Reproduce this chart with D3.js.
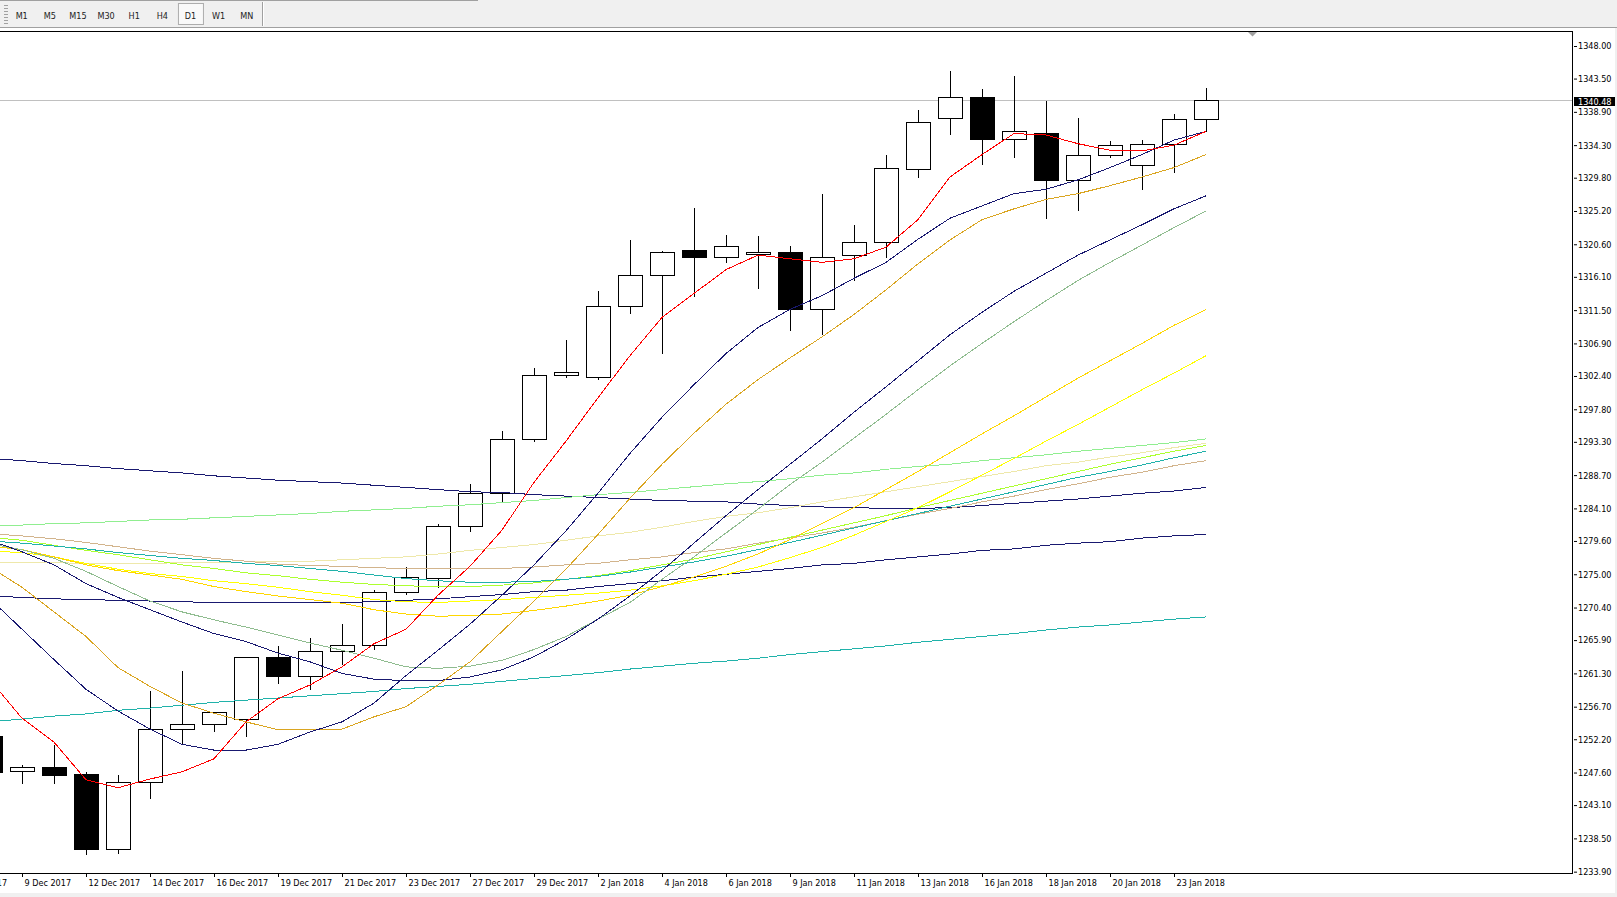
<!DOCTYPE html>
<html>
<head>
<meta charset="utf-8">
<script src="https://cdn.jsdelivr.net/npm/d3@7"></script>
<style>
  html, body { margin: 0; padding: 0; background: #fff; overflow: hidden; }
</style>
</head>
<body>
<div id="chart"></div>
<script>
// daily bars, 8 Dec 2017 .. 24 Jan 2018
var dates = ["8 Dec 2017","9 Dec 2017","11 Dec 2017","12 Dec 2017","13 Dec 2017","14 Dec 2017","15 Dec 2017","16 Dec 2017","18 Dec 2017","19 Dec 2017","20 Dec 2017","21 Dec 2017","22 Dec 2017","23 Dec 2017","26 Dec 2017","27 Dec 2017","28 Dec 2017","29 Dec 2017","30 Dec 2017","2 Jan 2018","3 Jan 2018","4 Jan 2018","5 Jan 2018","6 Jan 2018","8 Jan 2018","9 Jan 2018","10 Jan 2018","11 Jan 2018","12 Jan 2018","13 Jan 2018","15 Jan 2018","16 Jan 2018","17 Jan 2018","18 Jan 2018","19 Jan 2018","20 Jan 2018","22 Jan 2018","23 Jan 2018","24 Jan 2018"];

var open  = [1252.6,1247.8,1248.4,1247.4,1237.0,1246.3,1253.6,1254.3,1255.0,1263.5,1260.9,1264.4,1265.2,1272.5,1274.5,1281.6,1286.2,1293.7,1302.5,1302.3,1312.1,1316.3,1319.8,1318.8,1319.2,1319.5,1311.6,1319.1,1320.9,1331.0,1338.0,1341.0,1335.2,1336.0,1329.5,1333.0,1331.6,1334.5,1337.9];
var high  = [1253.4,1248.7,1251.4,1247.7,1247.3,1258.9,1261.6,1256.0,1263.6,1265.1,1266.2,1268.1,1272.8,1276.0,1282.0,1287.5,1294.8,1303.5,1307.4,1314.2,1321.2,1319.7,1325.6,1321.9,1321.8,1320.3,1327.6,1323.3,1333.0,1339.2,1344.6,1342.0,1343.9,1340.4,1338.0,1334.9,1335.0,1338.6,1342.2];
var low   = [1247.0,1246.1,1246.2,1236.3,1236.5,1244.1,1251.7,1253.3,1252.6,1260.0,1259.1,1262.6,1264.7,1272.3,1273.2,1281.0,1285.1,1293.4,1302.2,1302.0,1311.1,1305.6,1313.5,1318.2,1314.6,1308.8,1308.2,1315.6,1318.8,1329.9,1335.9,1331.7,1332.7,1324.2,1325.3,1332.6,1328.3,1330.6,1336.2];
var close = [1247.7,1248.3,1247.3,1237.0,1246.3,1253.6,1254.3,1255.9,1263.5,1260.9,1264.4,1265.2,1272.5,1274.6,1281.6,1286.2,1293.7,1302.5,1302.9,1312.1,1316.3,1319.6,1318.8,1320.3,1319.6,1311.6,1318.9,1320.9,1331.2,1337.5,1341.0,1335.2,1336.2,1329.5,1333.0,1334.3,1334.5,1337.9,1340.48];

// moving averages, one value per bar
var maRed       = [1260.4,1255.1,1251.8,1246.6,1245.5,1246.7,1247.7,1249.5,1254.6,1257.8,1259.7,1262.2,1265.4,1267.4,1272.1,1276.1,1281.1,1287.7,1293.4,1299.4,1305.2,1310.5,1313.8,1317.1,1319.1,1318.6,1318.1,1318.6,1320.2,1324.0,1329.9,1333.0,1335.9,1335.7,1334.5,1333.6,1333.5,1334.3,1336.2];
var maNavyFast  = [1271.6,1267.4,1263.2,1259.1,1256.1,1253.6,1251.5,1250.7,1250.7,1251.5,1253.2,1254.6,1257.2,1261.0,1264.5,1268.1,1272.1,1276.3,1281.0,1286.2,1291.7,1296.7,1301.2,1305.5,1309.1,1311.6,1313.5,1315.9,1318.1,1321.3,1324.2,1325.9,1327.6,1328.2,1329.5,1331.2,1333.0,1335.0,1336.2];
var maOrange    = [1276.0,1273.2,1269.8,1266.4,1262.1,1259.5,1257.2,1255.8,1254.6,1253.5,1253.5,1253.6,1255.3,1256.7,1259.7,1262.9,1267.1,1271.3,1275.7,1280.5,1285.5,1290.2,1294.5,1298.5,1301.9,1304.9,1307.8,1310.9,1314.3,1317.9,1321.2,1324.0,1325.5,1326.8,1327.6,1328.7,1329.9,1331.2,1333.0];
var maNavyMid   = [1279.7,1278.1,1276.3,1273.7,1271.8,1270.1,1268.4,1266.8,1265.7,1264.1,1262.9,1261.3,1260.5,1260.3,1260.3,1260.8,1261.8,1263.6,1266.0,1268.8,1272.0,1275.5,1279.3,1283.1,1286.7,1290.2,1293.7,1297.4,1300.9,1304.5,1308.1,1311.2,1314.1,1316.6,1319.1,1321.2,1323.3,1325.5,1327.3];
var maSeaGreen  = [1279.2,1278.4,1277.2,1275.4,1273.3,1271.3,1269.8,1268.7,1267.7,1266.6,1265.5,1264.5,1263.4,1262.2,1262.0,1262.3,1263.1,1264.6,1266.4,1268.8,1271.1,1274.3,1277.4,1280.7,1284.0,1287.4,1290.5,1293.8,1297.1,1300.5,1303.8,1306.9,1309.9,1312.8,1315.6,1318.1,1320.5,1322.9,1325.2];
var maGold      = [1278.9,1278.4,1277.4,1276.3,1275.5,1274.9,1274.3,1273.3,1272.6,1272.0,1271.5,1271.0,1270.1,1269.5,1269.2,1269.3,1269.5,1270.0,1270.6,1271.3,1272.1,1273.3,1274.6,1276.1,1277.8,1279.8,1282.0,1284.2,1286.7,1289.2,1291.8,1294.4,1296.9,1299.5,1302.1,1304.5,1306.9,1309.4,1311.6];
var maYellow    = [1278.2,1278.0,1277.4,1276.5,1275.7,1275.1,1274.7,1274.1,1273.7,1273.2,1272.6,1272.1,1271.5,1271.2,1271.1,1271.3,1271.5,1271.8,1272.1,1272.4,1272.8,1273.4,1274.1,1275.0,1276.0,1277.3,1278.7,1280.4,1282.3,1284.2,1286.4,1288.7,1291.0,1293.4,1295.7,1298.1,1300.5,1302.8,1305.2];
var maTeal      = [1279.6,1279.3,1278.9,1278.5,1278.0,1277.6,1277.2,1276.9,1276.5,1276.2,1275.8,1275.4,1274.9,1274.4,1274.1,1273.9,1273.9,1274.0,1274.3,1274.7,1275.3,1276.0,1276.7,1277.5,1278.4,1279.4,1280.4,1281.4,1282.4,1283.4,1284.4,1285.4,1286.4,1287.4,1288.4,1289.2,1290.1,1291.1,1292.0];
var maLime      = [1280.1,1279.7,1279.0,1278.3,1277.7,1277.0,1276.3,1275.8,1275.2,1274.8,1274.3,1273.9,1273.6,1273.4,1273.3,1273.3,1273.5,1273.8,1274.3,1274.8,1275.5,1276.3,1277.1,1278.1,1279.1,1280.1,1281.1,1282.1,1283.1,1284.2,1285.2,1286.2,1287.2,1288.2,1289.2,1290.2,1291.1,1292.0,1292.8];
var maTan       = [1280.6,1280.3,1279.9,1279.4,1278.8,1278.2,1277.7,1277.2,1276.8,1276.4,1276.2,1276.1,1275.9,1275.8,1275.8,1275.8,1275.8,1276.0,1276.3,1276.5,1277.0,1277.4,1278.0,1278.5,1279.3,1280.0,1280.7,1281.5,1282.4,1283.3,1284.1,1285.0,1285.8,1286.7,1287.5,1288.4,1289.1,1290.0,1290.7];
var maPale      = [1276.7,1276.6,1276.6,1276.5,1276.5,1276.5,1276.6,1276.6,1276.7,1276.8,1276.8,1277.0,1277.2,1277.4,1277.8,1278.3,1278.7,1279.1,1279.7,1280.3,1280.8,1281.5,1282.3,1283.0,1283.5,1284.2,1285.0,1285.7,1286.4,1287.1,1287.8,1288.5,1289.2,1290.0,1290.5,1291.2,1291.8,1292.5,1293.1];
var maLightGreen= [1281.7,1281.8,1282.0,1282.1,1282.3,1282.5,1282.6,1282.8,1283.0,1283.2,1283.4,1283.7,1283.9,1284.1,1284.4,1284.6,1284.9,1285.2,1285.6,1286.0,1286.3,1286.7,1287.1,1287.5,1287.8,1288.2,1288.7,1289.0,1289.5,1289.9,1290.2,1290.7,1291.1,1291.5,1292.0,1292.4,1292.8,1293.2,1293.7];
var maNavySlow  = [1291.0,1290.7,1290.3,1290.0,1289.6,1289.3,1289.0,1288.6,1288.3,1288.0,1287.8,1287.6,1287.3,1287.0,1286.7,1286.4,1286.3,1286.0,1285.8,1285.6,1285.4,1285.2,1285.1,1285.0,1284.7,1284.5,1284.3,1284.2,1284.1,1284.1,1284.2,1284.5,1284.8,1285.1,1285.4,1285.8,1286.2,1286.5,1287.0];
var maNavyFlat  = [1272.0,1271.8,1271.6,1271.5,1271.4,1271.3,1271.2,1271.1,1271.1,1271.1,1271.1,1271.1,1271.2,1271.4,1271.6,1271.9,1272.2,1272.6,1272.8,1273.3,1273.7,1274.1,1274.6,1275.0,1275.4,1275.8,1276.3,1276.5,1277.0,1277.4,1277.8,1278.3,1278.5,1279.0,1279.3,1279.5,1280.0,1280.3,1280.5];
var maTealSlow  = [1254.6,1255.0,1255.4,1255.7,1256.2,1256.5,1256.9,1257.3,1257.6,1257.9,1258.2,1258.5,1258.8,1259.2,1259.5,1259.8,1260.2,1260.6,1261.0,1261.4,1261.9,1262.3,1262.7,1263.0,1263.4,1263.9,1264.3,1264.7,1265.1,1265.6,1266.0,1266.4,1266.8,1267.3,1267.7,1268.0,1268.4,1268.8,1269.1];

// axis labels
var xTickLabels = ["7 Dec 2017","9 Dec 2017","12 Dec 2017","14 Dec 2017","16 Dec 2017","19 Dec 2017","21 Dec 2017","23 Dec 2017","27 Dec 2017","29 Dec 2017","2 Jan 2018","4 Jan 2018","6 Jan 2018","9 Jan 2018","11 Jan 2018","13 Jan 2018","16 Jan 2018","18 Jan 2018","20 Jan 2018","23 Jan 2018"];
var priceTicks = [1348.00,1343.50,1338.90,1334.30,1329.80,1325.20,1320.60,1316.10,1311.50,1306.90,1302.40,1297.80,1293.30,1288.70,1284.10,1279.60,1275.00,1270.40,1265.90,1261.30,1256.70,1252.20,1247.60,1243.10,1238.50,1233.90];
var lastPrice = 1340.48;
var periods = ["M1","M5","M15","M30","H1","H4","D1","W1","MN"];
var activePeriod = "D1";

var width = 1617, height = 897;
var plotRight = 1572, plotTop = 31, plotBottom = 873;
var barStep = 32;
var font = "Tahoma, 'DejaVu Sans Condensed', 'DejaVu Sans', sans-serif";

var svg = d3.select("#chart").append("svg:svg")
  .attr("width", width).attr("height", height);

// window frame
svg.append("rect").attr("width", width).attr("height", height).attr("fill", "#f0f0f0");
svg.append("rect").attr("x", 0).attr("y", 28).attr("width", 1615).attr("height", 865).attr("fill", "#fff");
svg.append("line").attr("x1", 0).attr("x2", width).attr("y1", 27.5).attr("y2", 27.5)
  .attr("stroke", "#a0a0a0");

// toolbar
var tb = svg.append("g");
tb.append("line").attr("x1", 0).attr("x2", 478).attr("y1", 0.5).attr("y2", 0.5).attr("stroke", "#a0a0a0");
tb.selectAll("rect.grip").data(d3.range(7)).enter().append("rect")
  .attr("x", 4).attr("y", function(d) { return 5 + d * 3; })
  .attr("width", 4).attr("height", 1).attr("fill", "#a0a0a0");
tb.append("line").attr("x1", 262.5).attr("x2", 262.5).attr("y1", 2).attr("y2", 26).attr("stroke", "#a0a0a0");
tb.append("line").attr("x1", 263.5).attr("x2", 263.5).attr("y1", 2).attr("y2", 26).attr("stroke", "#fff");
var px = d3.scalePoint().domain(periods).range([21.7, 246.7]);
tb.append("rect")
  .attr("x", px(activePeriod) - 12).attr("y", 3.5).attr("width", 25).attr("height", 21)
  .attr("fill", "#f9f9f9").attr("stroke", "#adadad");
tb.selectAll("text").data(periods).enter().append("text")
  .attr("x", function(d) { return px(d); }).attr("y", 15.5)
  .attr("dy", "0.35em").attr("text-anchor", "middle")
  .attr("font-family", font).attr("font-size", 9).attr("fill", "#222")
  .text(function(d) { return d; });

// scales
var x = d3.scaleLinear()
  .domain([0, dates.length - 1])
  .range([-10, -10 + barStep * (dates.length - 1)]);
var y = d3.scaleLinear()
  .domain([1233.9, 1348.0])
  .range([871.67, 46]);

svg.append("defs").append("clipPath").attr("id", "clip")
  .append("rect").attr("x", 0).attr("y", plotTop + 1)
  .attr("width", plotRight).attr("height", plotBottom - plotTop - 1);

var plot = svg.append("g").attr("clip-path", "url(#clip)");

// bid line
var yp = Math.round(y(lastPrice));
plot.append("line").attr("x1", 0).attr("x2", plotRight).attr("y1", yp + 0.5).attr("y2", yp + 0.5)
  .attr("stroke", "#c0c0c0");

// candles
var bars = dates.map(function(d, i) {
  return {i: i, o: open[i], h: high[i], l: low[i], c: close[i]};
});
var cx = function(d) { return Math.round(x(d.i)); };

plot.append("g").selectAll("line").data(bars).enter().append("line")
  .attr("x1", function(d) { return cx(d) + 0.5; })
  .attr("x2", function(d) { return cx(d) + 0.5; })
  .attr("y1", function(d) { return Math.round(y(d.h)); })
  .attr("y2", function(d) { return Math.round(y(d.l)) + 1; })
  .attr("stroke", "#000").attr("stroke-width", 1)
  .attr("shape-rendering", "crispEdges");

plot.append("g").selectAll("rect").data(bars).enter().append("rect")
  .attr("x", function(d) { return cx(d) - 11.5; })
  .attr("y", function(d) { return Math.round(y(Math.max(d.o, d.c))) + 0.5; })
  .attr("width", 24)
  .attr("height", function(d) {
    var top = Math.round(y(Math.max(d.o, d.c)));
    var bot = Math.round(y(Math.min(d.o, d.c)));
    return Math.max(1, bot - top);
  })
  .attr("fill", function(d) { return d.c < d.o ? "#000" : "#fff"; })
  .attr("stroke", "#000").attr("stroke-width", 1)
  .attr("shape-rendering", "crispEdges");

// moving averages (slow ones first, fast red last)
var maLines = [
  {values: maTealSlow,   color: "#20b2aa"},
  {values: maNavyFlat,   color: "#191970"},
  {values: maNavySlow,   color: "#191970"},
  {values: maLightGreen, color: "#90ee90"},
  {values: maPale,       color: "#eee8aa"},
  {values: maTan,        color: "#d2b48c"},
  {values: maLime,       color: "#adff2f"},
  {values: maTeal,       color: "#20b2aa"},
  {values: maYellow,     color: "#ffff00"},
  {values: maGold,       color: "#ffd700"},
  {values: maSeaGreen,   color: "#8fbc8f"},
  {values: maNavyMid,    color: "#191970"},
  {values: maOrange,     color: "#daa520"},
  {values: maNavyFast,   color: "#191970"},
  {values: maRed,        color: "#ff0000"}
];

var line = d3.line()
  .x(function(d, i) { return x(i); })
  .y(function(d) { return y(d); });

plot.append("g").selectAll("path").data(maLines).enter().append("path")
  .attr("d", function(d) { return line(d.values); })
  .attr("fill", "none")
  .attr("stroke", function(d) { return d.color; })
  .attr("stroke-width", 1)
  .attr("shape-rendering", "crispEdges");

// chart shift marker
svg.append("path").attr("d", "M1248,32L1257,32L1252.5,36.5Z").attr("fill", "#a0a0a0");

// frame of the price window
svg.append("path")
  .attr("d", "M0," + (plotTop + 0.5) + "H" + (plotRight + 0.5) + "V" + (plotBottom + 0.5) + "H0")
  .attr("fill", "none").attr("stroke", "#000").attr("shape-rendering", "crispEdges");

// price axis
var yAxis = d3.axisRight(y).tickValues(priceTicks).tickSize(3).tickPadding(1)
  .tickFormat(d3.format(".2f"));
var gy = svg.append("g").attr("transform", "translate(" + (plotRight + 2) + ",0)").call(yAxis);
gy.select(".domain").remove();
gy.attr("font-family", font).attr("font-size", 9);
gy.selectAll("text").attr("fill", "#000");

// current price label
svg.append("rect").attr("x", plotRight + 2).attr("y", yp - 3).attr("width", 41).attr("height", 9)
  .attr("fill", "#000");
svg.append("text").attr("x", plotRight + 6).attr("y", yp + 1.5).attr("dy", "0.35em")
  .attr("font-family", font).attr("font-size", 9).attr("fill", "#fff")
  .text(lastPrice.toFixed(2));

// time axis
var xAxis = d3.axisBottom(x)
  .tickValues(d3.range(-1, dates.length, 2))
  .tickSize(3)
  .tickFormat(function(d, i) { return xTickLabels[i]; });
var gx = svg.append("g").attr("transform", "translate(0," + (plotBottom + 1) + ")").call(xAxis);
gx.select(".domain").remove();
gx.attr("font-family", font).attr("font-size", 9);
gx.selectAll("text").attr("fill", "#000").attr("text-anchor", "start").attr("x", 2).attr("y", 6);
</script>
</body>
</html>
